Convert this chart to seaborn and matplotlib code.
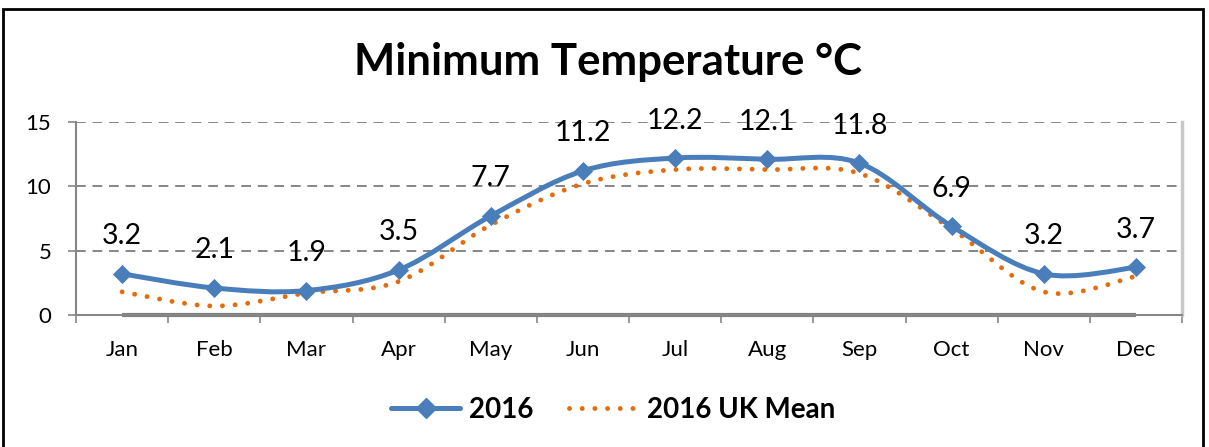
import matplotlib
matplotlib.use("Agg")
import matplotlib.pyplot as plt
from matplotlib.path import Path
from matplotlib.patches import PathPatch, Rectangle
from matplotlib.lines import Line2D
import numpy as np
import seaborn as sns

MONTHS = ["Jan", "Feb", "Mar", "Apr", "May", "Jun",
          "Jul", "Aug", "Sep", "Oct", "Nov", "Dec"]
MIN_2016 = [3.2, 2.1, 1.9, 3.5, 7.7, 11.2, 12.2, 12.1, 11.8, 6.9, 3.2, 3.7]
UK_MEAN = [1.8, 0.7, 1.7, 2.6, 7.0, 10.2, 11.3, 11.3, 11.0, 6.7, 1.8, 3.0]
BASELINE = [0] * 12
Y_TICKS = [0, 5, 10, 15]

BLUE = "#4A7EBB"
ORANGE = "#E46C0A"
GRID = "#868686"
DOTS = (0, (0.01, 2.6))

sns.set_theme(style="white")
plt.rcParams["font.family"] = ["Lato", "DejaVu Sans"]
plt.rcParams["text.color"] = "black"
plt.rcParams["xtick.labelcolor"] = "black"
plt.rcParams["ytick.labelcolor"] = "black"


def smooth_path(xs, ys):
    # Excel-style smoothed line: cubic bezier through each point
    pts = np.column_stack([xs, ys]).astype(float)
    n = len(pts)
    verts, codes = [pts[0]], [Path.MOVETO]
    for i in range(n - 1):
        p0 = pts[i - 1] if i > 0 else pts[i]
        p1, p2 = pts[i], pts[i + 1]
        p3 = pts[i + 2] if i + 2 < n else pts[i + 1]
        verts += [p1 + (p2 - p0) / 6, p2 - (p3 - p1) / 6, p2]
        codes += [Path.CURVE4] * 3
    return Path(verts, codes)


fig = plt.figure(figsize=(12.09, 4.47), dpi=100)
ax = fig.add_axes([0.0629, 0.2953, 0.9148, 0.4318])
x = np.arange(len(MONTHS))

# zero baseline series
ax.plot(x, BASELINE, color="#808080", lw=3, solid_capstyle="butt", clip_on=False, zorder=2)

ax.add_patch(PathPatch(smooth_path(x, UK_MEAN), fill=False, edgecolor=ORANGE,
                       lw=3.5, linestyle=DOTS, capstyle="round", zorder=3))
ax.add_patch(PathPatch(smooth_path(x, MIN_2016), fill=False, edgecolor=BLUE,
                       lw=3.6, capstyle="round", zorder=4))
sns.scatterplot(x=x, y=MIN_2016, marker="D", s=95, color=BLUE, edgecolor=BLUE,
                linewidth=0, ax=ax, zorder=5, clip_on=False)

for xi, v in zip(x, MIN_2016):
    ax.annotate(f"{v:.1f}", (xi, v), xytext=(0, 27), textcoords="offset points",
                ha="center", va="center", fontsize=20.5, color="black", zorder=6)

ax.set_xlim(-0.5, len(MONTHS) - 0.5)
ax.set_ylim(0, 15)
ax.set_yticks(Y_TICKS)
ax.set_xticks(x)
ax.set_xticklabels(MONTHS)
ax.set_xticks(np.arange(-0.5, len(MONTHS)), minor=True)
ax.tick_params(axis="x", which="major", length=0, pad=18, labelsize=16)
ax.tick_params(axis="x", which="minor", length=5.8, width=1.2, color=GRID, direction="out", bottom=True)
ax.tick_params(axis="y", length=5.8, width=1.2, color=GRID, direction="out", left=True, pad=12, labelsize=16)

ax.yaxis.grid(True, color=GRID, lw=1.4, linestyle=(0, (5, 3.5)))
ax.set_axisbelow(True)
ax.spines["top"].set_visible(False)
ax.spines["right"].set_color("#c8c8c8")
ax.spines["right"].set_linewidth(2.5)
for side in ["left", "bottom"]:
    ax.spines[side].set_color(GRID)
    ax.spines[side].set_linewidth(1.5)

fig.text(0.503, 0.861, "Minimum Temperature °C", ha="center", va="center",
         fontsize=31.5, fontweight="bold", color="black")

handles = [
    Line2D([], [], color=BLUE, lw=3.6, marker="D", markersize=10, solid_capstyle="round"),
    Line2D([], [], color=ORANGE, lw=3.5, linestyle=DOTS, dash_capstyle="round"),
]
fig.legend(handles, ["2016", "2016 UK Mean"], loc="center", bbox_to_anchor=(0.507, 0.083),
           ncol=2, frameon=False, handlelength=2.5, columnspacing=1.3, handletextpad=0.3,
           prop={"weight": "bold", "size": 20})

fig.add_artist(Rectangle((3 / 1209, -0.1), 1200 / 1209, 0.1 + (447 - 9) / 447,
                         transform=fig.transFigure, fill=False, edgecolor="black", lw=2))

fig.savefig("out.png", dpi=100)
